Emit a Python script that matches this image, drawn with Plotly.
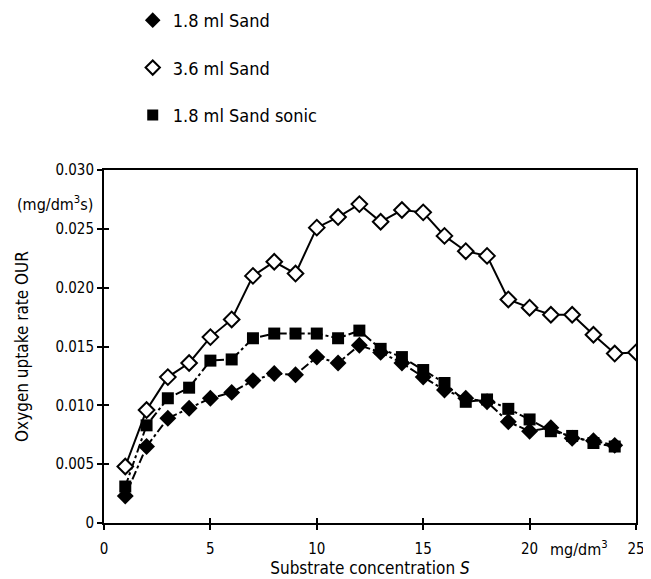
import plotly.graph_objects as go

# Data (OUR values in mg/dm3 s)
s_sand18 = list(range(1, 25))
our_sand18 = [0.0023, 0.0065, 0.0089, 0.00975, 0.0106, 0.0111, 0.0121, 0.0127, 0.0126, 0.0141,
              0.0136, 0.0151, 0.0145, 0.0136, 0.0124, 0.0113, 0.0106, 0.0103, 0.0086, 0.0078,
              0.0081, 0.0072, 0.0070, 0.0066]

s_sand36 = list(range(1, 26))
our_sand36 = [0.0048, 0.0096, 0.0124, 0.0136, 0.0158, 0.0173, 0.0210, 0.0222, 0.0212, 0.0251,
              0.0260, 0.0271, 0.0256, 0.0266, 0.0264, 0.0244, 0.0231, 0.0227, 0.0190, 0.0183,
              0.0177, 0.0177, 0.0160, 0.0144, 0.0145]

s_sonic = list(range(1, 25))
our_sonic = [0.0031, 0.0083, 0.0106, 0.0115, 0.0138, 0.0139, 0.0157, 0.0161, 0.0161, 0.0161,
             0.0157, 0.01635, 0.0148, 0.0141, 0.0130, 0.0119, 0.0103, 0.0105, 0.0097, 0.0088,
             0.0078, 0.0074, 0.0068, 0.0065]

x_ticks = [0, 5, 10, 15, 20, 25]
x_ticklabels = ["0", "5", "10", "15", "20", "25"]
y_ticks = [0, 0.005, 0.010, 0.015, 0.020, 0.025, 0.030]
y_ticklabels = ["0", "0.005", "0.010", "0.015", "0.020", "0.025", "0.030"]

names = ["1.8 ml Sand", "3.6 ml Sand", "1.8 ml Sand sonic"]

FONT = "DejaVu Sans Condensed, Liberation Sans Narrow, sans-serif"

fig = go.Figure()

fig.add_trace(go.Scatter(x=s_sand18, y=our_sand18, mode="lines+markers", showlegend=False,
                         line=dict(color="black", width=2, dash="dashdot"),
                         marker=dict(symbol="diamond", size=13, color="black")))
fig.add_trace(go.Scatter(x=s_sonic, y=our_sonic, mode="lines+markers", showlegend=False,
                         line=dict(color="black", width=2, dash="dashdot"),
                         marker=dict(symbol="square", size=12, color="black")))
fig.add_trace(go.Scatter(x=s_sand36, y=our_sand36, mode="lines+markers", showlegend=False,
                         line=dict(color="black", width=2),
                         marker=dict(symbol="diamond", size=12, color="white",
                                     line=dict(color="black", width=2))))

# legend entries
leg_markers = [dict(symbol="diamond", size=12, color="black"),
               dict(symbol="diamond", size=11, color="white", line=dict(color="black", width=2)),
               dict(symbol="square", size=11, color="black")]
for i, (nm, mk) in enumerate(zip(names, leg_markers)):
    fig.add_trace(go.Scatter(x=[None], y=[None], mode="markers", name=nm, marker=mk,
                             legendgroup=f"g{i}"))

fig.update_layout(
    width=643, height=571,
    margin=dict(l=96, r=15, t=162, b=56, autoexpand=False),
    paper_bgcolor="white", plot_bgcolor="white",
    font=dict(family=FONT, size=15, color="black"),
    legend=dict(x=0.054, y=1.476, xanchor="left", yanchor="top",
                font=dict(family=FONT, size=18, color="black"),
                traceorder="grouped", tracegroupgap=21, bgcolor="rgba(0,0,0,0)"),
    xaxis=dict(range=[0, 25], tickvals=x_ticks, ticktext=x_ticklabels,
               showline=True, linecolor="black", linewidth=2, mirror=True,
               ticks="outside", ticklen=5, tickwidth=2, tickcolor="black",
               ticklabelstandoff=6,
               showgrid=False, zeroline=False,
               title=dict(text="Substrate concentration <i>S</i>", standoff=2,
                          font=dict(family=FONT, size=17))),
    yaxis=dict(range=[0, 0.030], tickvals=y_ticks, ticktext=y_ticklabels,
               showline=True, linecolor="black", linewidth=2, mirror=True,
               ticks="outside", ticklen=5, tickwidth=2, tickcolor="black",
               showgrid=False, zeroline=False,
               title=dict(text="Oxygen uptake rate OUR", standoff=22,
                          font=dict(family=FONT, size=17))),
    xaxis2=dict(range=[0, 25], tickvals=x_ticks, overlaying="x", matches="x",
                showticklabels=False, ticks="inside", ticklen=5, tickwidth=2,
                tickcolor="black", showgrid=False, zeroline=False),
    yaxis2=dict(range=[0, 0.030], tickvals=y_ticks, overlaying="y", matches="y",
                showticklabels=False, ticks="inside", ticklen=5, tickwidth=2,
                tickcolor="black", showgrid=False, zeroline=False),
)

# invisible trace to activate the overlay axes (inside tick marks)
fig.add_trace(go.Scatter(x=[None], y=[None], xaxis="x2", yaxis="y2", showlegend=False,
                         hoverinfo="skip"))

fig.add_annotation(text="(mg/dm<sup>3</sup>s)", xref="paper", yref="paper",
                   x=-0.016, y=0.906, xanchor="right", yanchor="middle", showarrow=False,
                   font=dict(family=FONT, size=16))
fig.add_annotation(text="mg/dm<sup>3</sup>", xref="x", yref="paper",
                   x=22.3, y=-0.072, xanchor="center", yanchor="middle", showarrow=False,
                   font=dict(family=FONT, size=16))

fig.write_html("out.html")
